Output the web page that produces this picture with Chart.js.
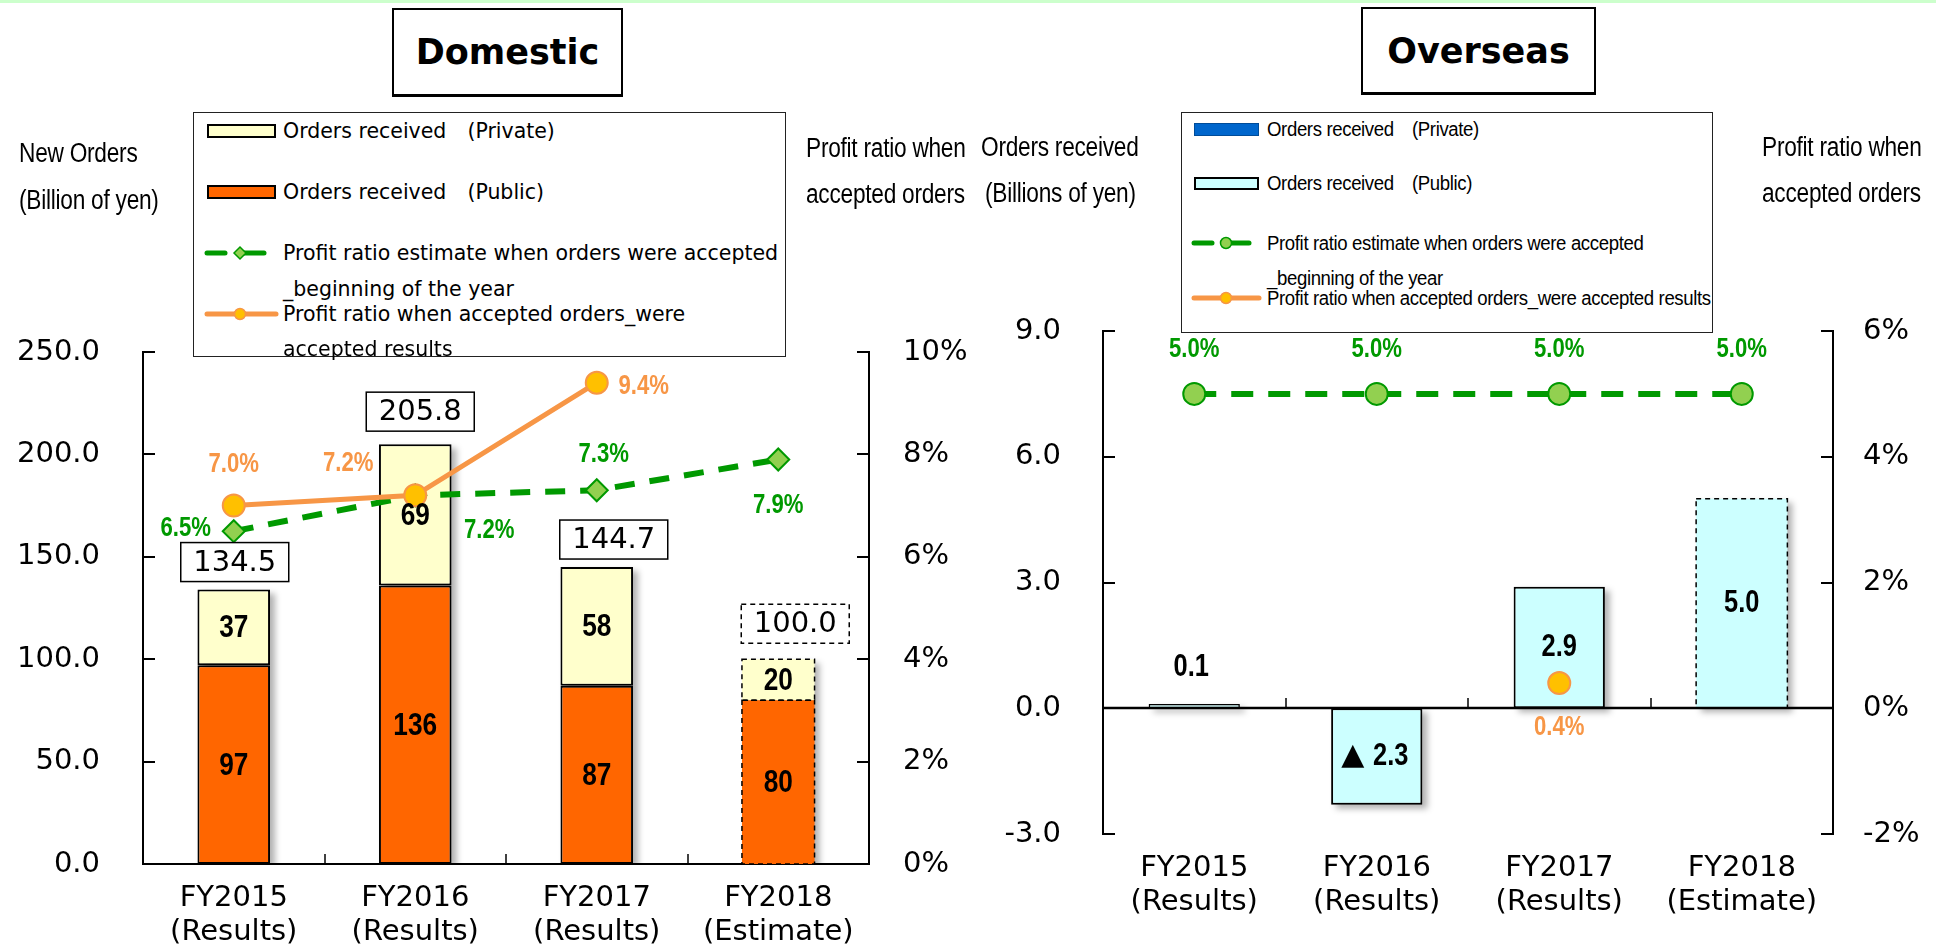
<!DOCTYPE html>
<html>
<head>
<meta charset="utf-8">
<script src="https://cdn.jsdelivr.net/npm/chart.js@4.4.1/dist/chart.umd.min.js"></script>
<style>
body { margin: 0; width: 1952px; height: 945px; position: relative; overflow: hidden; background: #fff; font-family: 'DejaVu Sans', sans-serif; }
canvas { position: absolute; top: 0; }
#dom-chart { left: 0; }
#ovs-chart { left: 976px; }
.topline { position: absolute; left: 0; top: 0; width: 1936px; height: 3px; background: #ccffcc; }
.title { position: absolute; box-sizing: border-box; border: 2px solid #000; border-bottom-width: 3px; background: #fff;
         font-weight: bold; font-size: 35px; display: flex; align-items: center; justify-content: center; }
.legend { position: absolute; box-sizing: border-box; border: 1.5px solid #222; background: #fff; }
.legend .txt { position: absolute; white-space: nowrap; line-height: 1; }
.legend.dom .txt { font-family: 'DejaVu Sans'; font-size: 20.5px; transform: translateY(-50%); }
.legend.ovs .txt { font-family: 'Liberation Sans', Arial, sans-serif; font-size: 20px; letter-spacing: -0.4px;
                   transform-origin: 0 50%; transform: translateY(-50%) scaleX(0.93); }
.legend .sw { position: absolute; box-sizing: border-box; }
.legend svg { position: absolute; left: 0; top: 0; overflow: visible; }
.axt { position: absolute; font-family: 'Liberation Sans', Arial, sans-serif; font-size: 27px; letter-spacing: -0.3px; white-space: nowrap; line-height: 1;
       transform-origin: 0 50%; transform: translateY(-50%) scaleX(0.84); }
</style>
</head>
<body>
<div class="topline"></div>
<canvas id="dom-chart" width="976" height="945"></canvas>
<canvas id="ovs-chart" width="976" height="945"></canvas>

<div class="title" style="left:392px;top:8px;width:231px;height:89px;">Domestic</div>
<div class="title" style="left:1361px;top:7px;width:235px;height:88px;">Overseas</div>

<div class="axt" style="left:19px;top:153px;">New Orders</div>
<div class="axt" style="left:19px;top:200px;">(Billion of yen)</div>
<div class="axt" style="left:806px;top:148px;">Profit ratio when</div>
<div class="axt" style="left:806px;top:194px;">accepted orders</div>
<div class="axt" style="left:981px;top:147px;">Orders received</div>
<div class="axt" style="left:985px;top:193px;">(Billions of yen)</div>
<div class="axt" style="left:1762px;top:147px;">Profit ratio when</div>
<div class="axt" style="left:1762px;top:193px;">accepted orders</div>

<div class="legend dom" id="dom-legend" style="left:193px;top:112px;width:593px;height:245px;"></div>
<div class="legend ovs" id="ovs-legend" style="left:1181px;top:112px;width:532px;height:221px;"></div>

<script>
// ---- data ----
const categories = [['FY2015', '(Results)'], ['FY2016', '(Results)'], ['FY2017', '(Results)'], ['FY2018', '(Estimate)']];
const estimateIndex = 3;

// Domestic, billion yen
const domPublic = [97, 136, 87, 80];
const domPrivate = [37, 69, 58, 20];
const domTotal = [134.5, 205.8, 144.7, 100.0];
// profit ratio, %
const domEstRatio = [6.5, 7.2, 7.3, 7.9];
const domResRatio = [7.0, 7.2, 9.4, null];
const domLeftTicks = [0, 50, 100, 150, 200, 250];
const domRightTicks = [0, 2, 4, 6, 8, 10];

// Overseas, billion yen
const ovsPublic = [0.1, -2.3, 2.9, 5.0];
const ovsEstRatio = [5.0, 5.0, 5.0, 5.0];
const ovsResRatio = [null, null, 0.4, null];
const ovsLeftTicks = [-3, 0, 3, 6, 9];
const ovsRightTicks = [-2, 0, 2, 4, 6];

const seriesNames = {
    priv: 'Orders received\u3000(Private)',
    pub: 'Orders received\u3000(Public)',
    est: 'Profit ratio estimate when orders were accepted_beginning of the year',
    res: 'Profit ratio when accepted orders_were accepted results'
};

// ---- styles ----
const GREEN = '#009900', GREEN_FILL = '#92d050';
const ORANGE = '#f79646', ORANGE_FILL = '#ffc000';
const PUBLIC_DOM = '#ff6600', PRIVATE_DOM = '#ffffcc';
const PUBLIC_OVS = '#ccffff', PRIVATE_OVS = '#0066cc';
// bold condensed labels: Liberation Sans squeezed horizontally
const pctFont = 'bold 27px "Liberation Sans", Arial, sans-serif';
const valueFont = 'bold 32px "Liberation Sans", Arial, sans-serif';
const ovsValueFont = 'bold 31px "Liberation Sans", Arial, sans-serif';
const totalFont = '29px "DejaVu Sans", sans-serif';
const tickFont = { family: 'DejaVu Sans', size: 29 };
const NARROW = 0.82;

// label placement relative to the points / bars (pixels)
const domEstLabelPos = [[-48, -3], [74, 35], [7, -36], [0, 46]];
const domResLabelPos = [[0, -41], [-67, -32], [47, 4], null];
const domTotalBoxPos = [[1, 8], [5, 13], [17, 8], [17, 16]];
const ovsEstLabelPos = [0, -44];
const ovsResLabelPos = [0, 44];
const ovsValueLabelPos = [{dx: -3, dy: -37, top: true}, {dx: 0, dy: 0}, {dx: 0, dy: 0}, {dx: 0, dy: 0}];

// ---- helpers ----
function line(ctx, x1, y1, x2, y2, w) {
    ctx.beginPath();
    ctx.moveTo(x1, y1);
    ctx.lineTo(x2, y2);
    ctx.lineWidth = w;
    ctx.strokeStyle = '#000';
    ctx.stroke();
}
function text(ctx, str, x, y, font, color, sx) {
    ctx.save();
    ctx.font = font;
    ctx.fillStyle = color;
    ctx.textAlign = 'center';
    ctx.textBaseline = 'middle';
    ctx.translate(x, y);
    ctx.scale(sx || 1, 1);
    ctx.fillText(str, 0, 0);
    ctx.restore();
}
function dashedRect(ctx, x, y, w, h) {
    ctx.save();
    ctx.setLineDash([5, 4]);
    ctx.lineWidth = 1.5;
    ctx.strokeStyle = '#000';
    ctx.strokeRect(x, y, w, h);
    ctx.restore();
}

// shadows behind bars + inward ticks
const barDecor = {
    id: 'barDecor',
    beforeDatasetsDraw(chart) {
        const ctx = chart.ctx, a = chart.chartArea;
        const metas = chart.getSortedVisibleDatasetMetas().filter(m => m.type === 'bar');
        ctx.save();
        ctx.beginPath();
        ctx.rect(a.left, a.top, a.right - a.left, a.bottom - a.top);
        ctx.clip();
        ctx.filter = 'blur(3px)';
        ctx.fillStyle = 'rgba(0,0,0,0.3)';
        for (let i = 0; i < chart.data.labels.length; i++) {
            let top = Infinity, bot = -Infinity, x = 0, w = 0;
            metas.forEach(m => {
                const el = m.data[i];
                if (!el) return;
                top = Math.min(top, el.y, el.base);
                bot = Math.max(bot, el.y, el.base);
                x = el.x; w = el.width;
            });
            if (top === Infinity) continue;
            ctx.fillRect(x - w / 2 + 5, top + 4, w, bot - top);
        }
        ctx.restore();
    },
    afterDraw(chart) {
        const ctx = chart.ctx, a = chart.chartArea, s = chart.scales;
        ctx.save();
        s.y.ticks.forEach((t, i) => {
            const py = Math.round(s.y.getPixelForTick(i));
            line(ctx, a.left, py, a.left + 12, py, 2);
        });
        s.y1.ticks.forEach((t, i) => {
            const py = Math.round(s.y1.getPixelForTick(i));
            line(ctx, a.right, py, a.right - 12, py, 2);
        });
        const baseY = Math.round(s.y.getPixelForValue(0));
        if (chart.options.plugins.barDecor.zeroLine) line(ctx, a.left, baseY, a.right, baseY, 2.5);
        for (let i = 1; i < s.x.ticks.length; i++) {
            const px = Math.round((s.x.getPixelForTick(i - 1) + s.x.getPixelForTick(i)) / 2);
            line(ctx, px, baseY, px, baseY - 10, 1.5);
        }
        ctx.restore();
    }
};

const domLabels = {
    id: 'domLabels',
    afterDatasetsDraw(chart) {
        const ctx = chart.ctx;
        const pub = chart.getDatasetMeta(2).data, priv = chart.getDatasetMeta(3).data;
        const est = chart.getDatasetMeta(1).data, res = chart.getDatasetMeta(0).data;
        ctx.save();
        [pub, priv].forEach(els => {
            const el = els[estimateIndex];
            dashedRect(ctx, el.x - el.width / 2, el.y, el.width, el.base - el.y);
        });
        pub.forEach((el, i) => text(ctx, String(domPublic[i]), el.x, (el.y + el.base) / 2 + 1, valueFont, '#000', NARROW));
        priv.forEach((el, i) => text(ctx, String(domPrivate[i]), el.x, (el.y + el.base) / 2 + 1, valueFont, '#000', NARROW));
        const bw = 108, bh = 39;
        priv.forEach((el, i) => {
            const [dx, gap] = domTotalBoxPos[i];
            const cx = el.x + dx, cy = el.y - gap - bh / 2;
            ctx.fillStyle = '#fff';
            ctx.fillRect(cx - bw / 2, cy - bh / 2, bw, bh);
            ctx.setLineDash(i === estimateIndex ? [5, 4] : []);
            ctx.lineWidth = 1.5;
            ctx.strokeStyle = '#000';
            ctx.strokeRect(cx - bw / 2, cy - bh / 2, bw, bh);
            ctx.setLineDash([]);
            text(ctx, domTotal[i].toFixed(1), cx, cy + 1, totalFont, '#000');
        });
        est.forEach((el, i) => {
            const o = domEstLabelPos[i];
            if (!o || domEstRatio[i] == null) return;
            text(ctx, domEstRatio[i].toFixed(1) + '%', el.x + o[0], el.y + o[1], pctFont, GREEN, NARROW);
        });
        res.forEach((el, i) => {
            const o = domResLabelPos[i];
            if (!o || domResRatio[i] == null) return;
            text(ctx, domResRatio[i].toFixed(1) + '%', el.x + o[0], el.y + o[1], pctFont, ORANGE, NARROW);
        });
        ctx.restore();
    }
};

const ovsLabels = {
    id: 'ovsLabels',
    afterDatasetsDraw(chart) {
        const ctx = chart.ctx;
        const bars = chart.getDatasetMeta(2).data;
        const est = chart.getDatasetMeta(1).data, res = chart.getDatasetMeta(0).data;
        ctx.save();
        const el3 = bars[estimateIndex];
        dashedRect(ctx, el3.x - el3.width / 2, el3.y, el3.width, el3.base - el3.y);
        bars.forEach((el, i) => {
            const v = ovsPublic[i], p = ovsValueLabelPos[i];
            const y = p.top ? Math.min(el.y, el.base) + p.dy : (el.y + el.base) / 2 + p.dy;
            if (v < 0) {
                // negative values are written with a triangle mark
                text(ctx, '\u25B2', el.x + p.dx - 24, y, 'bold 30px "DejaVu Sans", sans-serif', '#000');
                text(ctx, Math.abs(v).toFixed(1), el.x + p.dx + 14, y, ovsValueFont, '#000', NARROW);
            } else {
                text(ctx, v.toFixed(1), el.x + p.dx, y, ovsValueFont, '#000', NARROW);
            }
        });
        est.forEach((el, i) => {
            if (ovsEstRatio[i] == null) return;
            text(ctx, ovsEstRatio[i].toFixed(1) + '%', el.x + ovsEstLabelPos[0], el.y + ovsEstLabelPos[1], pctFont, GREEN, NARROW);
        });
        res.forEach((el, i) => {
            if (ovsResRatio[i] == null) return;
            text(ctx, ovsResRatio[i].toFixed(1) + '%', el.x + ovsResLabelPos[0], el.y + ovsResLabelPos[1], pctFont, ORANGE, NARROW);
        });
        ctx.restore();
    }
};

function yScale(ticks, pos, width, pad, fmt) {
    return {
        type: 'linear',
        position: pos,
        min: ticks[0],
        max: ticks[ticks.length - 1],
        afterBuildTicks: s => { s.ticks = ticks.map(v => ({ value: v })); },
        ticks: { font: tickFont, color: '#000', padding: pad, callback: fmt },
        grid: { display: false, drawTicks: false },
        border: { display: true, color: '#000', width: 2 },
        afterFit: s => { s.width = width; }
    };
}
function xScale(height, showBorder) {
    return {
        type: 'category',
        offset: true,
        ticks: { font: { family: 'DejaVu Sans', size: 29, lineHeight: 1.15 }, color: '#000', padding: 18, maxRotation: 0, autoSkip: false },
        grid: { display: false, drawTicks: false },
        border: { display: showBorder, color: '#000', width: 2 },
        afterFit: s => { s.height = height; }
    };
}

const common = {
    responsive: false,
    animation: false,
    devicePixelRatio: 1,
    events: [],
    plugins: { legend: { display: false }, tooltip: { enabled: false } }
};

// ---- Domestic chart ----
new Chart(document.getElementById('dom-chart'), {
    data: {
        labels: categories,
        datasets: [
            {
                type: 'line', label: seriesNames.res, data: domResRatio, yAxisID: 'y1', order: 0,
                borderColor: ORANGE, borderWidth: 5, spanGaps: false,
                pointStyle: 'circle', pointRadius: 11, pointBackgroundColor: ORANGE_FILL, pointBorderColor: ORANGE, pointBorderWidth: 2
            },
            {
                type: 'line', label: seriesNames.est, data: domEstRatio, yAxisID: 'y1', order: 1,
                borderColor: GREEN, borderWidth: 6, borderDash: [20, 15],
                pointStyle: 'rectRot', pointRadius: 11, pointBackgroundColor: GREEN_FILL, pointBorderColor: GREEN, pointBorderWidth: 2
            },
            {
                type: 'bar', label: seriesNames.pub, data: domPublic, yAxisID: 'y', stack: 's', order: 2,
                backgroundColor: PUBLIC_DOM, borderColor: '#000', borderWidth: [2, 2, 2, 0], borderSkipped: false,
                barPercentage: 0.4, categoryPercentage: 1
            },
            {
                type: 'bar', label: seriesNames.priv, data: domPrivate, yAxisID: 'y', stack: 's', order: 2,
                backgroundColor: PRIVATE_DOM, borderColor: '#000', borderWidth: [2, 2, 2, 0], borderSkipped: false,
                barPercentage: 0.4, categoryPercentage: 1
            }
        ]
    },
    options: Object.assign({}, common, {
        layout: { padding: { top: 352, left: 0, right: 0, bottom: 0 } },
        plugins: Object.assign({}, common.plugins, { barDecor: { zeroLine: false } }),
        scales: {
            x: Object.assign(xScale(81, true), { stacked: true }),
            y: Object.assign(yScale(domLeftTicks, 'left', 143, 43, v => v.toFixed(1)), { stacked: true }),
            y1: yScale(domRightTicks, 'right', 107, 34, v => v + '%')
        }
    }),
    plugins: [barDecor, domLabels]
});

// ---- Overseas chart ----
new Chart(document.getElementById('ovs-chart'), {
    data: {
        labels: categories,
        datasets: [
            {
                type: 'line', label: seriesNames.res, data: ovsResRatio, yAxisID: 'y1', order: 0,
                showLine: false,
                pointStyle: 'circle', pointRadius: 11, pointBackgroundColor: ORANGE_FILL, pointBorderColor: ORANGE, pointBorderWidth: 2
            },
            {
                type: 'line', label: seriesNames.est, data: ovsEstRatio, yAxisID: 'y1', order: 1,
                borderColor: GREEN, borderWidth: 6, borderDash: [22, 15],
                pointStyle: 'circle', pointRadius: 11, pointBackgroundColor: GREEN_FILL, pointBorderColor: GREEN, pointBorderWidth: 2
            },
            {
                type: 'bar', label: seriesNames.pub, data: ovsPublic, yAxisID: 'y', order: 2,
                backgroundColor: PUBLIC_OVS, borderColor: '#000', borderWidth: [1.5, 2, 2, 0], borderSkipped: false,
                barPercentage: 0.5, categoryPercentage: 1
            }
        ]
    },
    options: Object.assign({}, common, {
        layout: { padding: { top: 331, left: 0, right: 0, bottom: 0 } },
        plugins: Object.assign({}, common.plugins, { barDecor: { zeroLine: true } }),
        scales: {
            x: xScale(111, false),
            y: yScale(ovsLeftTicks, 'left', 127, 42, v => v.toFixed(1)),
            y1: yScale(ovsRightTicks, 'right', 119, 30, v => v + '%')
        }
    }),
    plugins: [barDecor, ovsLabels]
});

// ---- HTML legends ----
function buildLegend(el, cfg) {
    let html = '';
    html += `<div class="sw" style="left:${cfg.swX}px;top:${cfg.rows[0] - cfg.swH / 2}px;width:${cfg.swW}px;height:${cfg.swH}px;background:${cfg.privColor};border:${cfg.privBorder};"></div>`;
    html += `<div class="sw" style="left:${cfg.swX}px;top:${cfg.rows[1] - cfg.swH / 2}px;width:${cfg.swW}px;height:${cfg.swH}px;background:${cfg.pubColor};border:2px solid #000;"></div>`;
    const gy = cfg.rows[2], oy = cfg.rows[4], mx = cfg.markX;
    const marker = cfg.diamond
        ? `<path d="M${mx - 6} ${gy} L${mx} ${gy - 6} L${mx + 6} ${gy} L${mx} ${gy + 6} Z" fill="${GREEN_FILL}" stroke="${GREEN}" stroke-width="1.5"/>`
        : `<circle cx="${mx}" cy="${gy}" r="5.5" fill="${GREEN_FILL}" stroke="${GREEN}" stroke-width="1.5"/>`;
    html += `<svg width="${cfg.w}" height="${cfg.h}">
        <line x1="${cfg.swX}" y1="${gy}" x2="${cfg.swX + 18}" y2="${gy}" stroke="${GREEN}" stroke-width="5" stroke-linecap="round"/>
        <line x1="${mx}" y1="${gy}" x2="${cfg.swX + cfg.lineW}" y2="${gy}" stroke="${GREEN}" stroke-width="5" stroke-linecap="round"/>
        ${marker}
        <line x1="${cfg.swX}" y1="${oy}" x2="${cfg.swX + cfg.swW}" y2="${oy}" stroke="${ORANGE}" stroke-width="5" stroke-linecap="round"/>
        <circle cx="${mx}" cy="${oy}" r="5.5" fill="${ORANGE_FILL}" stroke="${ORANGE}" stroke-width="1.5"/>
    </svg>`;
    cfg.lines.forEach((t, i) => {
        html += `<div class="txt" style="left:${cfg.textX}px;top:${cfg.textRows[i]}px;">${t}</div>`;
    });
    el.innerHTML = html;
}

buildLegend(document.getElementById('dom-legend'), {
    w: 593, h: 245, swX: 13, swW: 69, swH: 14, lineW: 57, markX: 46, diamond: true,
    privColor: PRIVATE_DOM, privBorder: '2px solid #000', pubColor: PUBLIC_DOM,
    rows: [18, 79, 140, 176, 201],
    textX: 89, textRows: [18, 79, 140, 176, 201, 236],
    lines: [seriesNames.priv, seriesNames.pub,
            'Profit ratio estimate when orders were accepted', '_beginning of the year',
            'Profit ratio when accepted orders_were', 'accepted results']
});
buildLegend(document.getElementById('ovs-legend'), {
    w: 532, h: 221, swX: 12, swW: 65, swH: 13, lineW: 55, markX: 44, diamond: false,
    privColor: PRIVATE_OVS, privBorder: '1px solid #004c99', pubColor: PUBLIC_OVS,
    rows: [16, 70, 130, 165, 185],
    textX: 85, textRows: [16, 70, 130, 165, 185],
    lines: [seriesNames.priv, seriesNames.pub,
            'Profit ratio estimate when orders were accepted', '_beginning of the year',
            'Profit ratio when accepted orders_were accepted results']
});
</script>
</body>
</html>
